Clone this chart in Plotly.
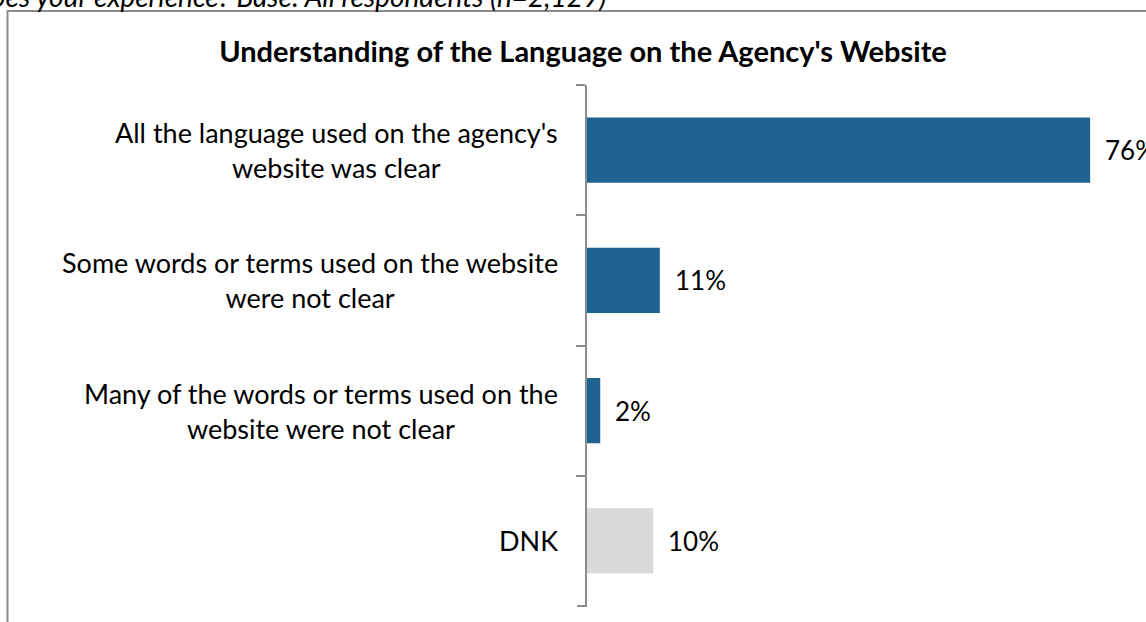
import plotly.graph_objects as go

# Survey responses, top to bottom
categories = [
    "All the language used on the agency's<br>website was clear",
    "Some words or terms used on the website<br>were not clear",
    "Many of the words or terms used on the<br>website were not clear",
    "DNK",
]
values = [76, 11, 2, 10]
bar_colors = ["#1F6391", "#1F6391", "#1F6391", "#D9D9D9"]

title_text = "Understanding of the Language on the Agency's Website"
question_text = ("Which of the following best describes your experience? "
                 "Base: All respondents (n=2,129)")

W, H = 1146, 622
ML, MR, MT, MB = 587, 0, 85, 16
PW = W - ML - MR
PH = H - MT - MB
X_MAX = 84.44

FONT = "Lato, 'Open Sans', sans-serif"
AXIS_GREY = "#8C8C8C"


def px_to_paper_x(px):
    return (px - ML) / PW


def px_to_paper_y(py):
    return (H - MB - py) / PH


fig = go.Figure(
    go.Bar(
        x=values,
        y=categories,
        orientation="h",
        marker=dict(color=bar_colors, line=dict(width=0)),
        width=0.5,
        hoverinfo="skip",
    )
)

# Category labels: centred lines, right edge just left of the axis
for cat in categories:
    fig.add_annotation(
        x=px_to_paper_x(560), y=cat, xref="paper", yref="y",
        text=cat, showarrow=False, align="center",
        xanchor="right", yanchor="middle",
        font=dict(family=FONT, size=27, color="#000000"),
    )

# Value labels to the right of each bar
for cat, v in zip(categories, values):
    fig.add_annotation(
        x=v, y=cat, xref="x", yref="y",
        text=f"{v}%", showarrow=False,
        xanchor="left", xshift=13,
        font=dict(family=FONT, size=26, color="#000000"),
    )

# Question line at the very top of the page
fig.add_annotation(
    x=px_to_paper_x(608), y=px_to_paper_y(15),
    xref="paper", yref="paper",
    xanchor="right", yanchor="bottom",
    text=f"<i>{question_text}</i>", showarrow=False,
    font=dict(family=FONT, size=28, color="#000000"),
)

# Chart frame
fig.add_shape(
    type="rect", xref="paper", yref="paper",
    x0=px_to_paper_x(7.5), x1=px_to_paper_x(1200),
    y0=px_to_paper_y(700), y1=px_to_paper_y(11),
    line=dict(color=AXIS_GREY, width=2),
    fillcolor="rgba(0,0,0,0)", layer="below",
)

# Closing tick at the bottom end of the category axis
fig.add_shape(
    type="line", xref="paper", yref="paper",
    x0=px_to_paper_x(577), x1=0, y0=0, y1=0,
    line=dict(color=AXIS_GREY, width=2),
)

fig.update_layout(
    width=W, height=H,
    margin=dict(l=ML, r=MR, t=MT, b=MB, pad=0),
    paper_bgcolor="white", plot_bgcolor="white",
    showlegend=False,
    title=dict(
        text=f"<b>{title_text}</b>",
        x=583 / W, xref="container", xanchor="center",
        y=1 - 52 / H, yref="container", yanchor="middle",
        font=dict(family=FONT, size=29, color="#000000"),
    ),
    xaxis=dict(
        range=[0, X_MAX], visible=False, showgrid=False, zeroline=False,
    ),
    yaxis=dict(
        type="category",
        autorange="reversed",
        tickson="boundaries",
        ticks="outside", ticklen=9, tickwidth=2, tickcolor=AXIS_GREY,
        showline=True, linecolor=AXIS_GREY, linewidth=2,
        showgrid=False, zeroline=False,
        showticklabels=False,
    ),
)

fig.write_html("out.html")
